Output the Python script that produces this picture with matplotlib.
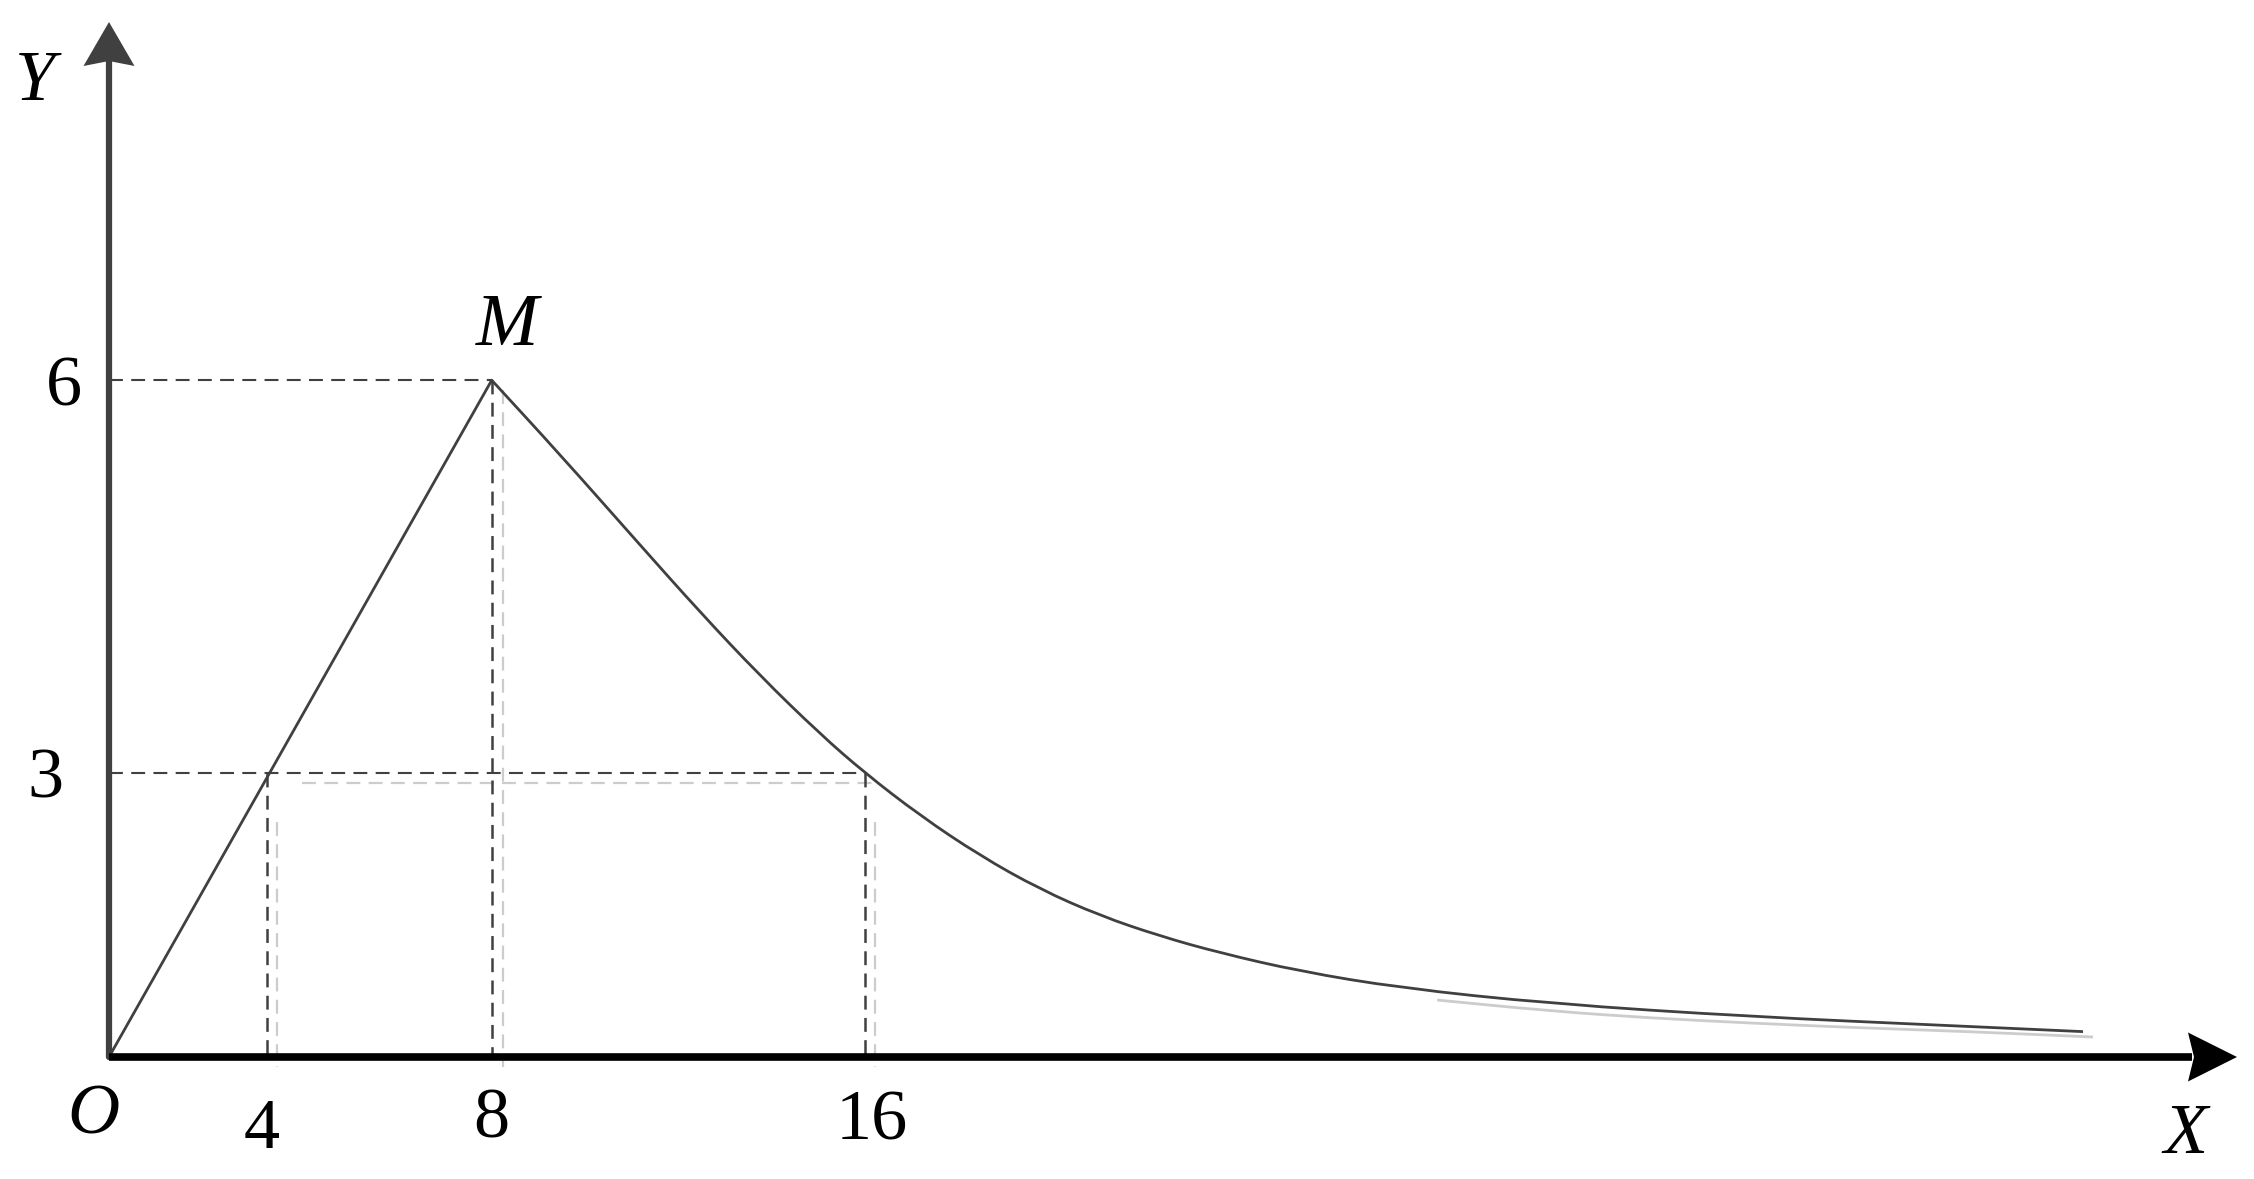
import matplotlib
matplotlib.use("Agg")
import matplotlib.pyplot as plt
from matplotlib.patches import Polygon, PathPatch
from matplotlib.path import Path

plt.rcParams['lines.scale_dashes'] = False

# ---------------- data (schematic units) ----------------
curve_x = [0.0, 8.10, 9.545, 11.238, 12.508, 13.778, 15.048, 16.00, 17.164, 18.434,
           19.704, 20.974, 22.243, 23.513, 25.206, 27.323, 30.497, 34.730, 38.963, 41.778]
curve_y = [0.0, 6.00, 5.341, 4.540, 3.944, 3.380, 2.864, 2.517, 2.141, 1.785,
           1.487, 1.253, 1.072, 0.923, 0.760, 0.613, 0.473, 0.358, 0.278, 0.225]

ghost_tail_x = [28.11, 30.50, 32.61, 34.73, 36.85, 39.32, 41.99]
ghost_tail_y = [0.505, 0.408, 0.346, 0.301, 0.262, 0.226, 0.177]

x_tick_pos = [3.34, 8.10, 16.00]
x_tick_labels = ['4', '8', '16']
y_tick_pos = [2.52, 6.00]
y_tick_labels = ['3', '6']

ghost_vx = [3.556, 8.339, 16.212]
ghost_vtop = [2.083, 5.913, 2.083]
ghost_h_y = 2.429
ghost_h_x = [4.085, 16.212]

# ---------------- figure ----------------
W, H = 2254, 1179
OX, OY = 109, 1057
SX, SY = 47.25, 112.8

fig = plt.figure(figsize=(W / 100, H / 100), dpi=100)
ax = fig.add_axes([0, 0, 1, 1])
ax.axis('off')
ax.set_xlim(-OX / SX, (W - OX) / SX)
ax.set_ylim(-(H - OY) / SY, OY / SY)

def px(xp):
    return (xp - OX) / SX

def py(yp):
    return (OY - yp) / SY

dark = '#404040'
ghost = '#cccccc'
dash = (10, 6)


def smooth_path(xs, ys):
    """Quadratic-Bezier path through the midpoints of the polyline (keeps end points)."""
    pts = list(zip(xs, ys))
    verts = [pts[0]]
    codes = [Path.MOVETO]
    mid = lambda a, b: ((a[0] + b[0]) / 2, (a[1] + b[1]) / 2)
    verts.append(mid(pts[0], pts[1]))
    codes.append(Path.LINETO)
    for i in range(1, len(pts) - 1):
        verts += [pts[i], mid(pts[i], pts[i + 1])]
        codes += [Path.CURVE3, Path.CURVE3]
    verts.append(pts[-1])
    codes.append(Path.LINETO)
    return Path(verts, codes)


# ghost guide lines and tail
for gx, gt in zip(ghost_vx, ghost_vtop):
    ax.plot([gx, gx], [gt, py(1067)], color=ghost, lw=1.6, dashes=dash, zorder=1)
ax.plot(ghost_h_x, [ghost_h_y, ghost_h_y], color=ghost, lw=1.6, dashes=dash, zorder=1)
ax.add_patch(PathPatch(smooth_path(ghost_tail_x, ghost_tail_y), facecolor='none',
                       edgecolor=ghost, lw=2.0, zorder=1))

# dark guide lines
peak_x, peak_y = curve_x[1], curve_y[1]
ax.plot([0, peak_x], [peak_y, peak_y], color=dark, lw=1.5, dashes=dash, zorder=2)
ax.plot([0, x_tick_pos[2]], [y_tick_pos[0], y_tick_pos[0]], color=dark, lw=1.5, dashes=dash, zorder=2)
ax.plot([x_tick_pos[0]] * 2, [y_tick_pos[0], 0], color=dark, lw=1.8, dashes=dash, zorder=2)
ax.plot([x_tick_pos[1]] * 2, [peak_y, 0], color=dark, lw=1.8, dashes=dash, zorder=2)
ax.plot([x_tick_pos[2]] * 2, [y_tick_pos[0], 0], color=dark, lw=1.8, dashes=dash, zorder=2)

# main curve: straight rise, smooth decay
ax.plot(curve_x[:2], curve_y[:2], color=dark, lw=2.0, solid_capstyle='round', zorder=3)
ax.add_patch(PathPatch(smooth_path(curve_x[1:], curve_y[1:]), facecolor='none',
                       edgecolor=dark, lw=2.0, joinstyle='round', zorder=3))

# axes with arrows
ax.plot([0, 0], [0, py(60)], color=dark, lw=4.5, solid_capstyle='round', zorder=4)
ax.add_patch(Polygon([(0, py(22)), (25.5 / SX, py(66)), (0, py(61)), (-25.5 / SX, py(66))],
                     closed=True, color=dark, lw=0, zorder=4))
ax.plot([0, px(2192)], [0, 0], color='black', lw=5.5, solid_capstyle='butt', zorder=5)
ax.add_patch(Polygon([(px(2237), 0), (px(2188), 24.5 / SY), (px(2194), 0), (px(2188), -24.5 / SY)],
                     closed=True, color='black', lw=0, zorder=5))

# text
serif = ['Liberation Serif', 'DejaVu Serif']
fs = 52
def label(x, y, s, italic=False, size=fs):
    ax.text(x, y, s, fontsize=size, family=serif, style='italic' if italic else 'normal',
            ha='center', va='baseline', color='black')

label(px(35), py(100), 'Y', True)
label(px(507), py(345), 'M', True, 54)
label(px(93), py(1133), 'O', True)
label(px(2185), py(1153), 'X', True)
for xp, lab, base in zip(x_tick_pos, x_tick_labels, [1148, 1137, 1140]):
    label(xp - 0.1 if lab == '4' else xp + (0.15 if lab == '16' else 0), py(base), lab)
for yp, lab, cx in zip(y_tick_pos, y_tick_labels, [45, 64]):
    label(px(cx), py(OY - yp * SY + 25), lab)

fig.savefig('out.png', dpi=100, facecolor='white')
